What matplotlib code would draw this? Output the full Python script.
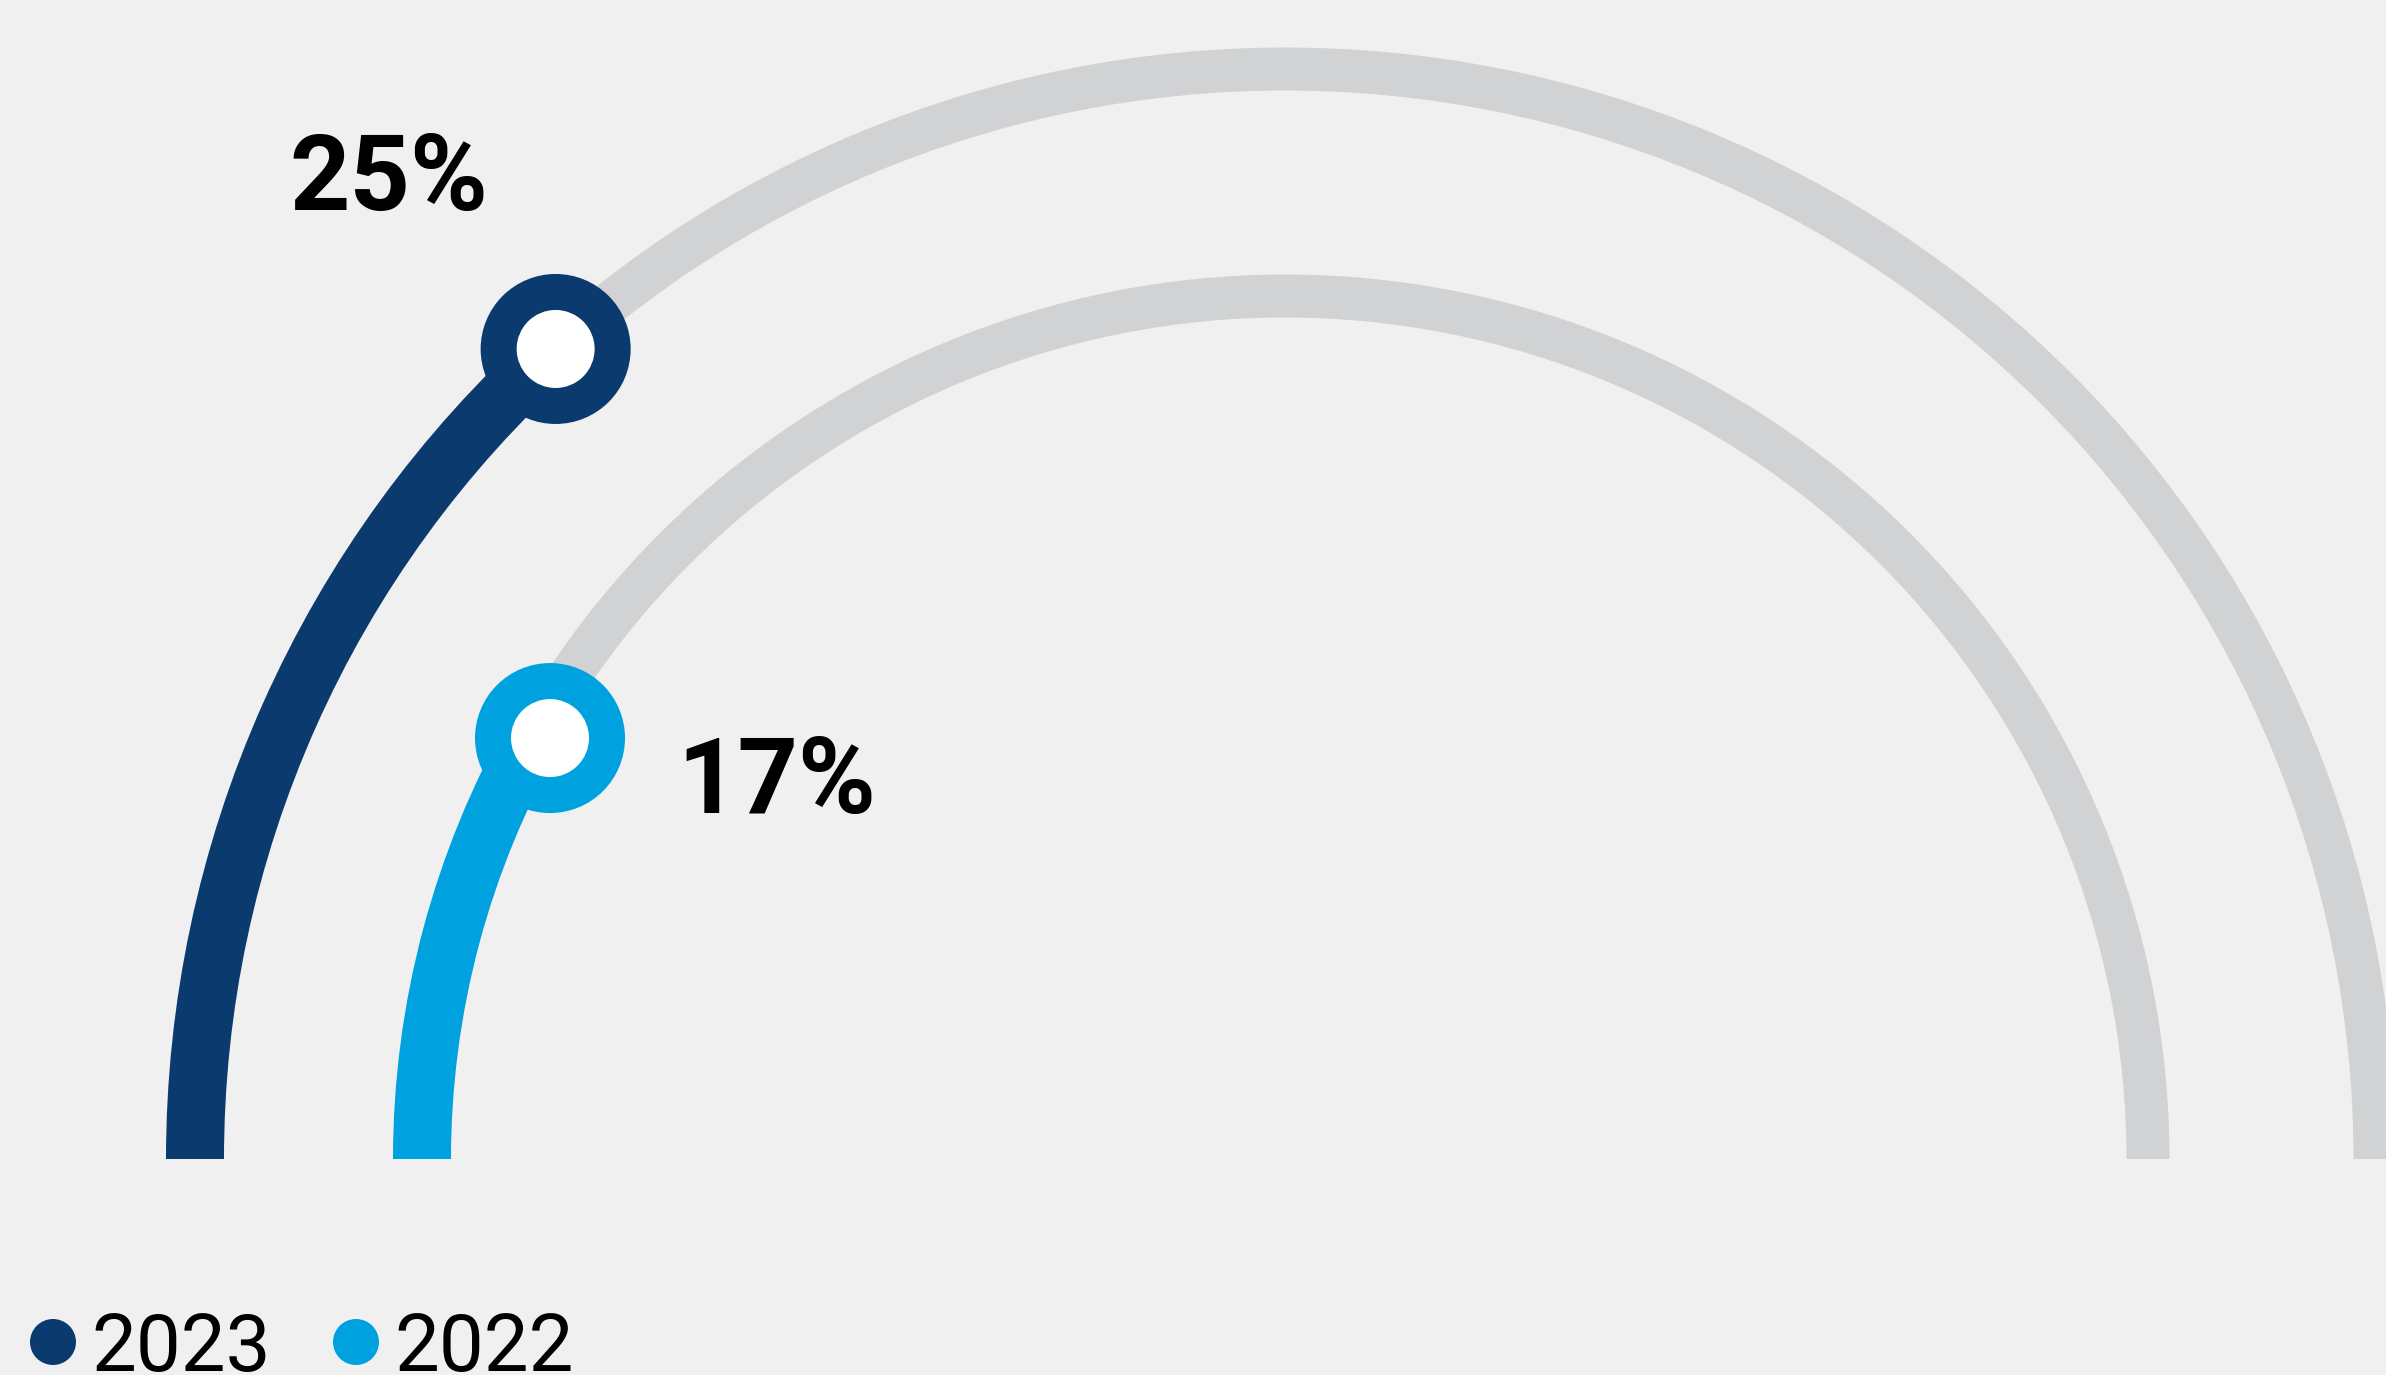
import math
import matplotlib
matplotlib.use("Agg")
import matplotlib.pyplot as plt
from matplotlib.patches import Wedge, Circle

# ---- data ----
years = ["2023", "2022"]
values = [25, 17]                 # label values (%)
fill_deg = [48.0, 29.8]           # filled sweep of each half ring (degrees)
colors = ["#0a3a6e", "#00a1df"]

# ---- layout (pixels) ----
W, H = 2386, 1375
cx, cy = 1285, H - 1159
radii = [1090, 863]
marker_inset = [0, 16]
track_w = 43
fill_w = 58
grey = "#d1d2d4"
bg = "#f0f0f0"

fig = plt.figure(figsize=(W / 100, H / 100), dpi=100, facecolor=bg)
ax = fig.add_axes([0, 0, 1, 1])
ax.set_xlim(0, W)
ax.set_ylim(0, H)
ax.set_facecolor(bg)
ax.axis("off")

label_pos = [(292, H - 210), (680, H - 813)]

for r, deg, col, v, (lx, ly), ins in zip(radii, fill_deg, colors, values, label_pos, marker_inset):
    # grey track
    ax.add_patch(Wedge((cx, cy), r + track_w / 2, 0, 180, width=track_w,
                       facecolor=grey, edgecolor="none"))
    # filled part
    a_end = 180 - deg
    ax.add_patch(Wedge((cx, cy), r + fill_w / 2, a_end, 180, width=fill_w,
                       facecolor=col, edgecolor="none"))
    # marker
    mx = cx + (r - ins) * math.cos(math.radians(a_end))
    my = cy + (r - ins) * math.sin(math.radians(a_end))
    ax.add_patch(Circle((mx, my), 75, facecolor=col, edgecolor="none", zorder=3))
    ax.add_patch(Circle((mx, my), 39, facecolor="white", edgecolor="none", zorder=4))
    ax.text(lx - 3, ly, f"{v}%", fontsize=76, fontweight="bold", family="Roboto",
            ha="left", va="baseline", color="black")

# legend
leg = [(53, 95), (356, 398)]
for yr, col, (cxl, tx) in zip(years, colors, leg):
    ax.add_patch(Circle((cxl, H - 1342), 23, facecolor=col, edgecolor="none"))
    ax.text(tx - 4, H - 1371, yr, fontsize=57.5, family="Roboto",
            ha="left", va="baseline", color="black")

fig.savefig("out.png", dpi=100, facecolor=bg)
